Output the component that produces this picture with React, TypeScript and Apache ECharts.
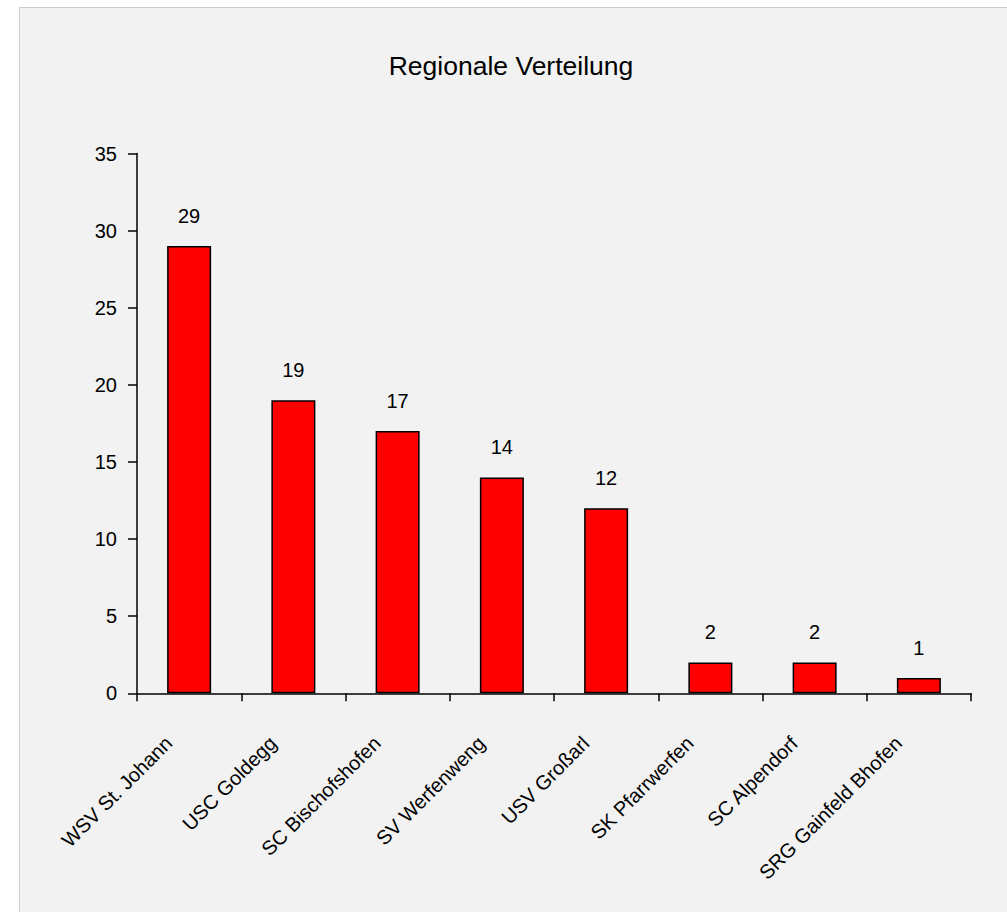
import React, { useEffect, useRef } from "react";
import * as echarts from "echarts";

const chartTitle = "Regionale Verteilung";
const categories = [
  "WSV St. Johann",
  "USC Goldegg",
  "SC Bischofshofen",
  "SV Werfenweng",
  "USV Großarl",
  "SK Pfarrwerfen",
  "SC Alpendorf",
  "SRG Gainfeld Bhofen",
];
const values = [29, 19, 17, 14, 12, 2, 2, 1];
const yMin = 0;
const yMax = 35;
const yStep = 5;

const FONT = "'Liberation Sans', Arial, sans-serif";

export default function App() {
  const ref = useRef<HTMLDivElement>(null);
  useEffect(() => {
    if (!ref.current) return;
    const chart = echarts.init(ref.current, undefined, { renderer: "svg" });
    chart.setOption({
      animation: false,
      backgroundColor: "#ffffff",
      textStyle: { fontFamily: FONT },
      graphic: [
        {
          type: "rect",
          z: -10,
          silent: true,
          shape: { x: 19.5, y: 7.5, width: 1100, height: 1000 },
          style: { fill: "#f2f2f2", stroke: "#cccccc", lineWidth: 1 },
        },
        {
          type: "text",
          x: 511,
          y: 66,
          style: {
            text: chartTitle,
            fontFamily: FONT,
            fontSize: 26.5,
            fill: "#000000",
            textAlign: "center",
            textVerticalAlign: "middle",
          },
        },
      ],
      grid: { left: 137, right: 36, top: 153.5, bottom: 218.7, containLabel: false },
      xAxis: {
        type: "category",
        data: categories,
        boundaryGap: true,
        axisLine: { show: true, lineStyle: { color: "#000000", width: 1.5 } },
        axisTick: { show: true, length: 8, alignWithLabel: false, lineStyle: { color: "#000000", width: 1.5 } },
        axisLabel: {
          interval: 0,
          rotate: 45,
          fontSize: 20,
          color: "#000000",
          fontFamily: FONT,
          margin: 26,
          padding: [0, 29, 0, 0],
        },
        splitLine: { show: false },
      },
      yAxis: {
        type: "value",
        min: yMin,
        max: yMax,
        interval: yStep,
        axisLine: { show: true, lineStyle: { color: "#000000", width: 1.5 } },
        axisTick: { show: true, length: 9, inside: false, lineStyle: { color: "#000000", width: 1.5 } },
        axisLabel: { fontSize: 20, color: "#000000", fontFamily: FONT, margin: 20 },
        splitLine: { show: false },
      },
      series: [
        {
          type: "bar",
          data: values,
          barWidth: 44,
          itemStyle: { color: "#ff0000", borderColor: "#000000", borderWidth: 1.5 },
          label: {
            show: true,
            position: "top",
            distance: 20,
            fontSize: 20,
            color: "#000000",
            fontFamily: FONT,
          },
        },
      ],
    });
    return () => chart.dispose();
  }, []);
  return (
    <div
      ref={ref}
      style={{ position: "fixed", left: 0, top: 0, width: 1007, height: 912 }}
    />
  );
}
